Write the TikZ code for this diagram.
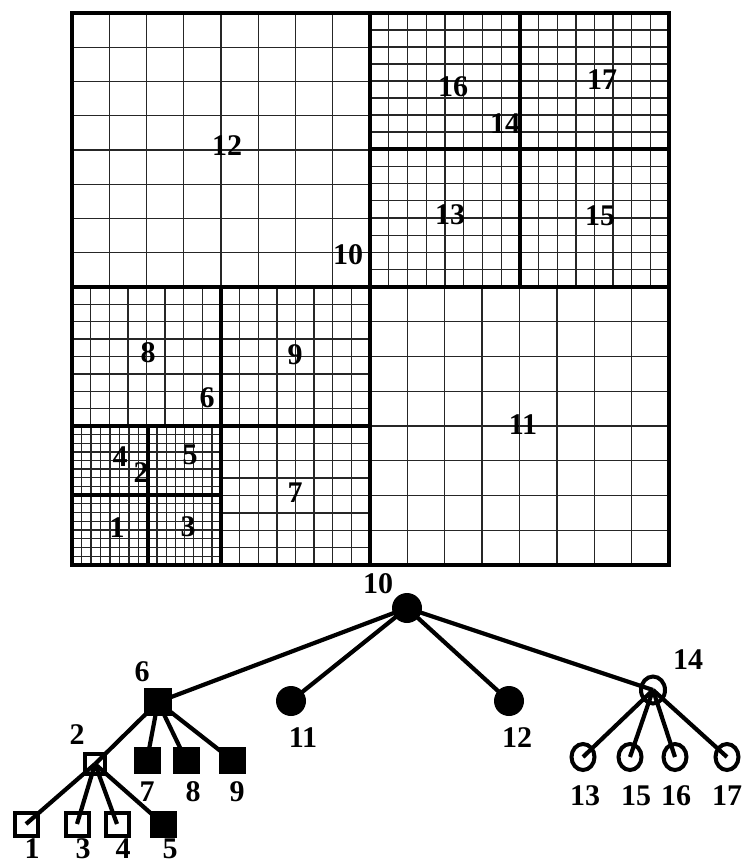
\documentclass[tikz,border=0pt]{standalone}
\usepackage{fontspec}
\setmainfont{Liberation Serif}
\usetikzlibrary{shapes.geometric}

% 8x8 grid inside the box (x0,y0)-(x1,y1)
\newcommand{\cellgrid}[4]{%
  \foreach \k in {1,...,7} {
    \draw[gridline] ({#1+(#3-#1)*\k/8},#2) -- ({#1+(#3-#1)*\k/8},#4);
    \draw[gridline] (#1,{#2+(#4-#2)*\k/8}) -- (#3,{#2+(#4-#2)*\k/8});
  }}

\tikzset{
  gridline/.style={line width=1.3pt, black!85},
  divider/.style={line width=3.4pt},
  frame/.style={line width=4.4pt},
  num/.style={font=\fontsize{30}{30}\selectfont\bfseries, inner sep=0pt},
  edge/.style={line width=4.2pt},
  fullnode/.style={circle, fill, minimum size=30pt, inner sep=0pt},
  emptynode/.style={ellipse, draw, line width=4pt, minimum width=23pt, minimum height=26pt, inner sep=0pt},
  fullleaf/.style={rectangle, fill, minimum size=27pt, inner sep=0pt},
  emptyleaf/.style={rectangle, draw, line width=4pt, minimum size=23pt, inner sep=0pt},
}

\begin{document}
\begin{tikzpicture}[x=1pt, y=-1pt, line cap=butt, line join=miter]
  \useasboundingbox (0,0) rectangle (744,865);

  % leaf blocks, each with its own 8x8 grid
  \cellgrid{72}{13}{370}{287}
  \cellgrid{370}{287}{669}{565}
  \cellgrid{370}{13}{520}{149}
  \cellgrid{520}{13}{669}{149}
  \cellgrid{370}{149}{520}{287}
  \cellgrid{520}{149}{669}{287}
  \cellgrid{72}{287}{221}{426}
  \cellgrid{221}{287}{370}{426}
  \cellgrid{221}{426}{370}{565}
  \cellgrid{72}{426}{148}{495}
  \cellgrid{148}{426}{221}{495}
  \cellgrid{72}{495}{148}{565}
  \cellgrid{148}{495}{221}{565}

  % block boundaries
  \draw[divider] (370,13) -- (370,565);
  \draw[divider] (72,287) -- (669,287);
  \draw[divider] (520,13) -- (520,287);
  \draw[divider] (370,149) -- (669,149);
  \draw[divider] (221,287) -- (221,565);
  \draw[divider] (72,426) -- (370,426);
  \draw[divider] (148,426) -- (148,565);
  \draw[divider] (72,495) -- (221,495);
  \draw[frame] (72,13) rectangle (669,565);

  % block numbers
  \node[num] (g12) at (227,146) {12};
  \node[num] (g10) at (348,255) {10};
  \node[num] (g16) at (453,87) {16};
  \node[num] (g17) at (602,80) {17};
  \node[num] (g14) at (505,124) {14};
  \node[num] (g13) at (450,215) {13};
  \node[num] (g15) at (600,216) {15};
  \node[num] (g8) at (148,353) {8};
  \node[num] (g9) at (295,355) {9};
  \node[num] (g6) at (207,398) {6};
  \node[num] (g4) at (120,457) {4};
  \node[num] (g2) at (141,473) {2};
  \node[num] (g5) at (190,455) {5};
  \node[num] (g7) at (295,493) {7};
  \node[num] (g1) at (117,528) {1};
  \node[num] (g3) at (188,527) {3};
  \node[num] (g11) at (523,425) {11};

  % tree
  \node[fullnode] (n10) at (407,608) {};
  \node[fullleaf, minimum size=28pt] (n6) at (158,702) {};
  \node[fullnode] (n11) at (291,701) {};
  \node[fullnode] (n12) at (509,701) {};
  \node[emptynode, minimum width=24pt, minimum height=27pt] (n14) at (653,690) {};
  \node[emptyleaf, minimum size=20pt] (n2) at (95,764) {};
  \node[fullleaf] (n7) at (147,760) {};
  \node[fullleaf] (n8) at (186,760) {};
  \node[fullleaf] (n9) at (232,760) {};
  \node[emptyleaf] (n1) at (26,824) {};
  \node[emptyleaf] (n3) at (77,824) {};
  \node[emptyleaf] (n4) at (117,824) {};
  \node[fullleaf] (n5) at (163,824) {};
  \node[emptynode] (n13) at (583,757) {};
  \node[emptynode] (n15) at (630,757) {};
  \node[emptynode] (n16) at (675,757) {};
  \node[emptynode] (n17) at (727,757) {};

  \foreach \c in {n6,n11,n12,n14}
    \draw[edge] (n10.center) -- (\c.center);
  \foreach \c in {n2,n7,n8,n9}
    \draw[edge] (n6.center) -- (\c.center);
  \foreach \c in {n1,n3,n4,n5}
    \draw[edge] (n2.center) -- (\c.center);
  \foreach \c in {n13,n15,n16,n17}
    \draw[edge] (n14.center) -- (\c.center);

  % tree labels
  \node[num] (t10) at (378,584) {10};
  \node[num] (t6) at (142,672) {6};
  \node[num] (t11) at (303,738) {11};
  \node[num] (t12) at (517,738) {12};
  \node[num] (t14) at (688,660) {14};
  \node[num] (t2) at (77,735) {2};
  \node[num] (t7) at (147,792) {7};
  \node[num] (t8) at (193,792) {8};
  \node[num] (t9) at (237,792) {9};
  \node[num] (t1) at (32,849) {1};
  \node[num] (t3) at (83,849) {3};
  \node[num] (t4) at (123,849) {4};
  \node[num] (t5) at (170,849) {5};
  \node[num] (t13) at (585,796) {13};
  \node[num] (t15) at (636,796) {15};
  \node[num] (t16) at (676,796) {16};
  \node[num] (t17) at (727,796) {17};
\end{tikzpicture}
\end{document}
